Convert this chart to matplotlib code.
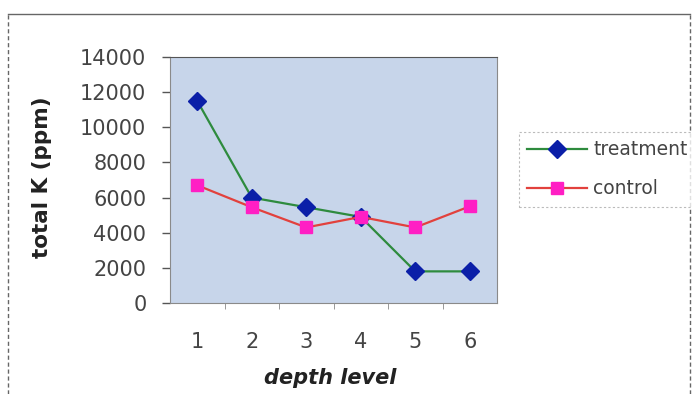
import matplotlib
matplotlib.use("Agg")
import matplotlib.pyplot as plt
from matplotlib.lines import Line2D

# data
depth = [1, 2, 3, 4, 5, 6]
treatment = [11500, 6000, 5450, 4900, 1800, 1800]
control = [6700, 5450, 4300, 4900, 4300, 5500]
yticks = [0, 2000, 4000, 6000, 8000, 10000, 12000, 14000]

plt.rcParams['font.family'] = ['DejaVu Sans']
txt = '#444444'

fig = plt.figure(figsize=(6.92, 3.94), dpi=100)
ax = fig.add_axes([170/692, 1 - 303/394, 327/692, 246/394])
ax.set_facecolor('#c7d5ea')

ax.plot(depth, treatment, color='#2e8b3e', lw=1.6, marker='D', ms=9,
        mfc='#0b1fa8', mec='#0b1fa8', label='treatment')
ax.plot(depth, control, color='#e2413d', lw=1.6, marker='s', ms=9,
        mfc='#ff1fc4', mec='#ff1fc4', label='control')

ax.set_xlim(0.5, 6.5)
ax.set_ylim(0, 14000)
ax.set_yticks(yticks)
ax.set_yticklabels([str(v) for v in yticks])
ax.set_xticks(depth)
ax.set_xticks([1.5, 2.5, 3.5, 4.5, 5.5], minor=True)
ax.tick_params(axis='y', direction='out', length=6, width=1, color='#555555',
               pad=11, labelsize=15, labelcolor=txt)
ax.tick_params(axis='x', which='major', length=0, pad=21, labelsize=15,
               labelcolor=txt)
ax.tick_params(axis='x', which='minor', direction='out', length=4,
               color='#888888')
for s in ax.spines.values():
    s.set_color('#8a8a8a')
    s.set_linewidth(0.8)
ax.spines['top'].set_color('#555555')

ax.set_xlabel('depth level', fontsize=15, fontweight='bold', style='italic',
              color='#222222')
ax.xaxis.set_label_coords(0.49, -0.265)
ax.set_ylabel('total K (ppm)', fontsize=15.5, fontweight='bold', color='#222222')
ax.yaxis.set_label_coords(-0.36, 0.51)

leg = fig.legend(loc='upper left', bbox_to_anchor=(519/692, 1 - 132/394),
                 frameon=True, fancybox=False, fontsize=13.5, handlelength=3.2,
                 handletextpad=0.3, labelspacing=1.05, borderpad=0.45,
                 borderaxespad=0, labelcolor=txt)
leg.get_frame().set_edgecolor('#aaaaaa')
leg.get_frame().set_linestyle((0, (2, 2)))
leg.get_frame().set_linewidth(0.8)

# outer chart frame
fig.add_artist(Line2D([8/692, 690/692], [1 - 14/394, 1 - 14/394],
                      transform=fig.transFigure, color='#666666', lw=1))
fig.add_artist(Line2D([8/692, 8/692], [0, 1 - 14/394], transform=fig.transFigure,
                      color='#666666', lw=1, ls=(0, (3, 2))))
fig.add_artist(Line2D([690/692, 690/692], [0, 1 - 14/394],
                      transform=fig.transFigure, color='#666666', lw=1,
                      ls=(0, (3, 2))))

fig.savefig('out.png', dpi=100)
